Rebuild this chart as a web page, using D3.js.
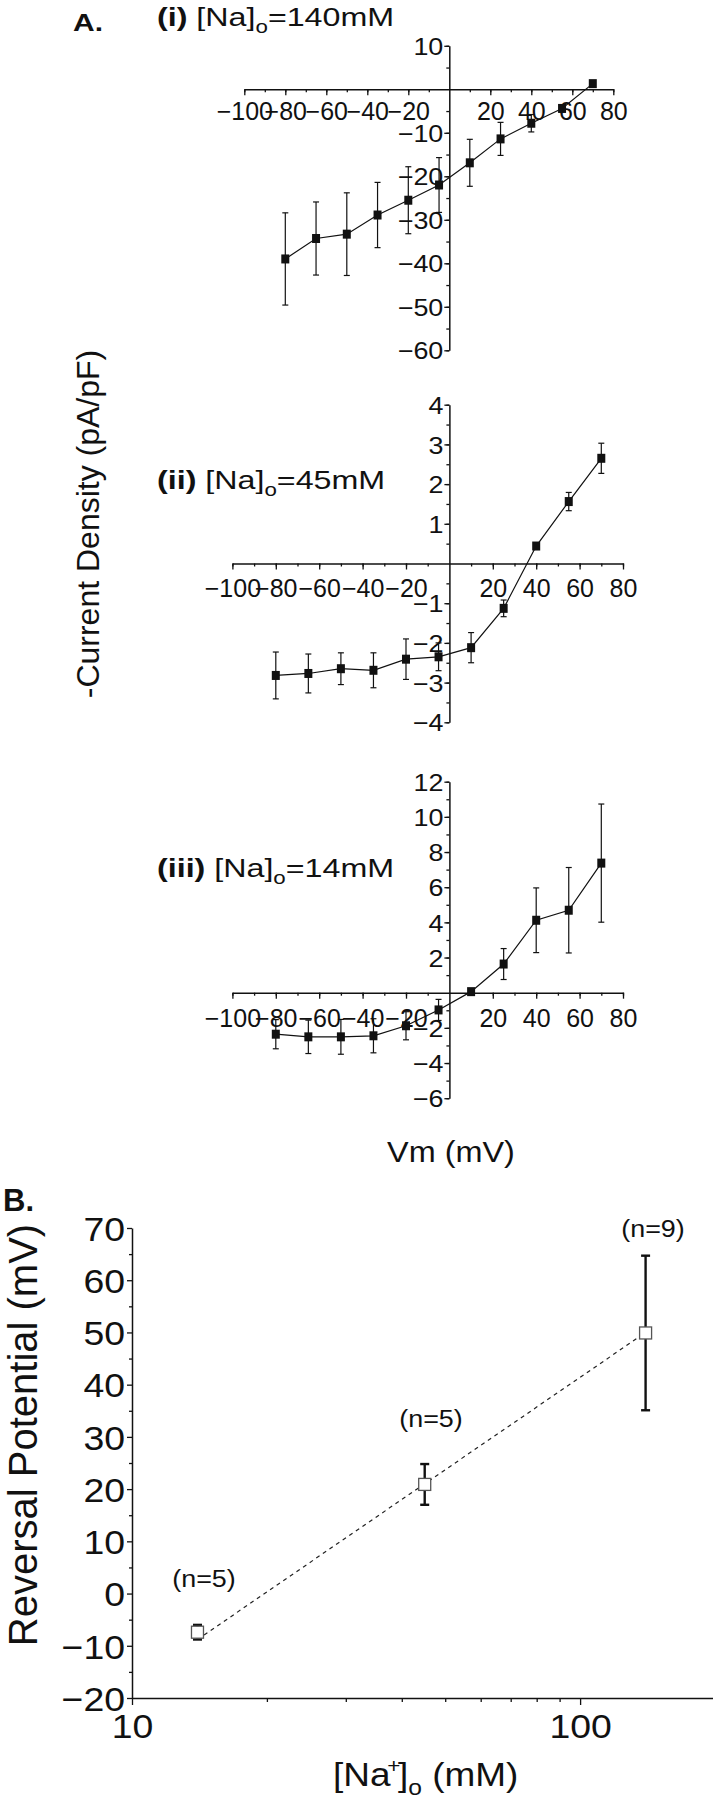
<!DOCTYPE html>
<html><head><meta charset="utf-8">
<script src="https://cdn.jsdelivr.net/npm/d3@7/dist/d3.min.js"></script>
<style>
body{margin:0;background:#fff}
svg{display:block}
text{font-family:"Liberation Sans",Arial,Helvetica,sans-serif;fill:#111}
</style></head>
<body>
<svg id="chart" width="713" height="1800"></svg>
<script>
// ---------- data ----------
const voltages = [-80, -65, -50, -35, -20, -5, 10, 25, 40, 55, 70];
const current140 = [-39.0, -34.3, -33.3, -28.9, -25.5, -22.0, -16.9, -11.4, -7.8, -4.4, 1.3];
const err140     = [10.6, 8.4, 9.5, 7.5, 7.7, 6.3, 5.4, 3.8, 2.0, 0.8, 0.6];
const current45  = [-2.82, -2.77, -2.65, -2.69, -2.41, -2.35, -2.12, -1.13, 0.44, 1.56, 2.65];
const err45      = [0.59, 0.49, 0.40, 0.44, 0.51, 0.35, 0.38, 0.21, 0.07, 0.23, 0.38];
const current14  = [-2.36, -2.51, -2.51, -2.45, -1.88, -0.98, 0.06, 1.63, 4.12, 4.69, 7.37];
const err14      = [0.83, 0.95, 0.99, 0.97, 0.80, 0.60, 0.10, 0.88, 1.84, 2.43, 3.36];

const vmTicks = [-100, -80, -60, -40, -20, 20, 40, 60, 80];
const vmMinorTicks = [-100, -90, -80, -70, -60, -50, -40, -30, -20, -10, 10, 20, 30, 40, 50, 60, 70, 80];
const yTicks140 = [10, -10, -20, -30, -40, -50, -60];
const yMinor140 = [10, 5, -5, -10, -15, -20, -25, -30, -35, -40, -45, -50, -55, -60];
const yTicks45 = [4, 3, 2, 1, -1, -2, -3, -4];
const yMinor45 = [4, 3.5, 3, 2.5, 2, 1.5, 1, 0.5, -0.5, -1, -1.5, -2, -2.5, -3, -3.5, -4];
const yTicks14 = [12, 10, 8, 6, 4, 2, -2, -4, -6];
const yMinor14 = [12, 11, 10, 9, 8, 7, 6, 5, 4, 3, 2, 1, -1, -2, -3, -4, -5, -6];

const naConc   = [14, 45, 140];
const revPot   = [-7.4, 20.9, 49.9];
const revErr   = [1.4, 3.9, 14.8];
const nLabels  = ["(n=5)", "(n=5)", "(n=9)"];
const fitConc  = [14, 140];
const fitPot   = [-8.8, 50];
const bYTicks  = [70, 60, 50, 40, 30, 20, 10, 0, -10, -20];
const bYMinor  = [65, 55, 45, 35, 25, 15, 5, -5, -15];
const bXTicks  = [10, 100];
const bXMinor  = [20, 30, 40, 50, 60, 70, 80, 90, 200];

// ---------- drawing ----------
const svg = d3.select("#chart");
const KX = 1.0;  // horizontal stretch of x tick labels
const KY = 1.12; // horizontal stretch of y tick labels

function styleAxis(g){
  g.selectAll("path.domain").attr("stroke","#111").attr("stroke-width",1.5);
  g.selectAll(".tick line").attr("stroke","#111").attr("stroke-width",1.3);
}

function ivPanel(cfg){
  const x = d3.scaleLinear().domain([-100, 80]).range(cfg.xr);
  const y = d3.scaleLinear().domain(cfg.yd).range(cfg.yr);
  const g = svg.append("g");

  const gxm = g.append("g").attr("transform",`translate(0,${y(0)})`)
    .call(d3.axisBottom(x).tickValues(vmMinorTicks).tickSize(3).tickSizeOuter(0).tickFormat(""));
  gxm.select("path.domain").remove();
  const gx = g.append("g").attr("transform",`translate(0,${y(0)})`)
    .call(d3.axisBottom(x).tickValues(vmTicks).tickSize(6).tickSizeOuter(0).tickFormat(d3.format("d")));
  gx.selectAll(".tick text").attr("y", cfg.xLabOff).attr("dy", 0)
    .attr("font-size", 25).attr("transform", `scale(${KX},1)`);
  styleAxis(gxm); styleAxis(gx);

  const gym = g.append("g").attr("transform",`translate(${x(0)},0)`)
    .call(d3.axisLeft(y).tickValues(cfg.yMinor).tickSize(3).tickSizeOuter(0).tickFormat(""));
  gym.select("path.domain").remove();
  const gy = g.append("g").attr("transform",`translate(${x(0)},0)`)
    .call(d3.axisLeft(y).tickValues(cfg.yTicks).tickSize(5).tickSizeOuter(0).tickFormat(d3.format("d")));
  gy.selectAll(".tick text").attr("x", -6 / KY).attr("dy", "0.36em")
    .attr("font-size", 24).attr("transform", `scale(${KY},1)`);
  styleAxis(gym); styleAxis(gy);
  g.selectAll(".tick text").attr("fill","#111").attr("font-family",'"Liberation Sans",Arial,sans-serif');

  const pts = voltages.map((v,i)=>({v, c: cfg.vals[i], e: cfg.errs[i]}));
  const eb = g.append("g").attr("stroke","#111").attr("stroke-width",1.2);
  pts.forEach(p=>{
    const cx = x(p.v);
    eb.append("line").attr("x1",cx).attr("x2",cx).attr("y1",y(p.c+p.e)).attr("y2",y(p.c-p.e));
    eb.append("line").attr("x1",cx-3).attr("x2",cx+3).attr("y1",y(p.c+p.e)).attr("y2",y(p.c+p.e));
    eb.append("line").attr("x1",cx-3).attr("x2",cx+3).attr("y1",y(p.c-p.e)).attr("y2",y(p.c-p.e));
  });
  g.append("path").datum(pts)
    .attr("d", d3.line().x(p=>x(p.v)).y(p=>y(p.c)))
    .attr("fill","none").attr("stroke","#111").attr("stroke-width",1.2);
  g.selectAll("rect.pt").data(pts).join("rect").attr("class","pt")
    .attr("x", p=>x(p.v)-4).attr("y", p=>y(p.c)-4.5)
    .attr("width",8).attr("height",9).attr("fill","#111");

  const t = svg.append("text").attr("transform",`translate(157,${cfg.titleY}) scale(1.24,1)`)
    .attr("font-size", 26);
  t.append("tspan").attr("font-weight","bold").text(cfg.roman);
  t.append("tspan").text(" [Na]");
  t.append("tspan").attr("font-size",18).attr("dy",7).text("o");
  t.append("tspan").attr("dy",-7).text("=" + cfg.conc + "mM");
}

ivPanel({xr:[244.3, 613.3], yd:[-60,10], yr:[350.3, 45.8], yTicks:yTicks140, yMinor:yMinor140,
  vals:current140, errs:err140, roman:"(i)", conc:140, titleY:26, xLabOff:31});
ivPanel({xr:[232.4, 623.0], yd:[-4,4], yr:[722.3, 404.7], yTicks:yTicks45, yMinor:yMinor45,
  vals:current45, errs:err45, roman:"(ii)", conc:45, titleY:489, xLabOff:33});
ivPanel({xr:[232.4, 623.0], yd:[-6,12], yr:[1098.2, 781.7], yTicks:yTicks14, yMinor:yMinor14,
  vals:current14, errs:err14, roman:"(iii)", conc:14, titleY:877, xLabOff:34});

svg.append("text").attr("transform",`translate(73,31) scale(1.25,1)`)
  .attr("font-size",24).attr("font-weight","bold").text("A.");
svg.append("text").attr("transform","translate(99,524) rotate(-90)")
  .attr("text-anchor","middle").attr("font-size",32).text("-Current Density (pA/pF)");
svg.append("text").attr("transform",`translate(451,1162) scale(1.08,1)`)
  .attr("text-anchor","middle").attr("font-size",30).text("Vm (mV)");

// ---------- panel B ----------
const bx = d3.scaleLog().domain([10, 200]).range([132, 715]);
const by = d3.scaleLinear().domain([-20, 70]).range([1698, 1228]);
const gb = svg.append("g");

const gbxm = gb.append("g").attr("transform",`translate(0,${by(-20)})`)
  .call(d3.axisBottom(bx).tickValues(bXMinor).tickSize(4).tickSizeOuter(0).tickFormat(""));
gbxm.select("path.domain").remove();
const gbx = gb.append("g").attr("transform",`translate(0,${by(-20)})`)
  .call(d3.axisBottom(bx).tickValues(bXTicks).tickSize(7).tickSizeOuter(0).tickFormat(d3.format("d")));
gbx.selectAll(".tick text").attr("y", 40).attr("dy", 0).attr("font-size", 34)
  .attr("transform", `scale(1.1,1)`);
styleAxis(gbxm); styleAxis(gbx);

const gbym = gb.append("g").attr("transform",`translate(${bx(10)},0)`)
  .call(d3.axisLeft(by).tickValues(bYMinor).tickSize(3).tickSizeOuter(0).tickFormat(""));
gbym.select("path.domain").remove();
const gby = gb.append("g").attr("transform",`translate(${bx(10)},0)`)
  .call(d3.axisLeft(by).tickValues(bYTicks).tickSize(5).tickSizeOuter(0).tickFormat(d3.format("d")));
gby.selectAll(".tick text").attr("x", -7/1.1).attr("dy","0.36em").attr("font-size",34)
  .attr("transform", `scale(1.1,1)`);
styleAxis(gbym); styleAxis(gby);
gb.selectAll(".tick text").attr("fill","#111").attr("font-family",'"Liberation Sans",Arial,sans-serif');

gb.append("path").datum(fitConc.map((c,i)=>[c, fitPot[i]]))
  .attr("d", d3.line().x(d=>bx(d[0])).y(d=>by(d[1])))
  .attr("fill","none").attr("stroke","#222").attr("stroke-width",1.2).attr("stroke-dasharray","4,4");

const bpts = naConc.map((c,i)=>({c, v: revPot[i], e: revErr[i], n: nLabels[i]}));
const beb = gb.append("g").attr("stroke","#111").attr("stroke-width",2.4);
bpts.forEach(p=>{
  const cx = bx(p.c);
  beb.append("line").attr("x1",cx).attr("x2",cx).attr("y1",by(p.v+p.e)).attr("y2",by(p.v-p.e));
  beb.append("line").attr("x1",cx-4.5).attr("x2",cx+4.5).attr("y1",by(p.v+p.e)).attr("y2",by(p.v+p.e));
  beb.append("line").attr("x1",cx-4.5).attr("x2",cx+4.5).attr("y1",by(p.v-p.e)).attr("y2",by(p.v-p.e));
});
gb.selectAll("rect.bp").data(bpts).join("rect").attr("class","bp")
  .attr("x", p=>bx(p.c)-6).attr("y", p=>by(p.v)-6).attr("width",12).attr("height",12)
  .attr("fill","#fff").attr("stroke","#555").attr("stroke-width",1.3);

const nPos = [[204, 1587], [431, 1427], [653, 1237]];
bpts.forEach((p,i)=>{
  svg.append("text").attr("transform",`translate(${nPos[i][0]},${nPos[i][1]}) scale(1.12,1)`)
    .attr("text-anchor","middle").attr("font-size",24).text(p.n);
});

svg.append("text").attr("transform","translate(3,1211)").attr("font-size",31)
  .attr("font-weight","bold").text("B.");
svg.append("text").attr("transform","translate(37,1435) rotate(-90)")
  .attr("text-anchor","middle").attr("font-size",40).text("Reversal Potential (mV)");
const bt = svg.append("text").attr("transform","translate(333,1786) scale(1.12,1)").attr("font-size",33);
bt.append("tspan").text("[Na");
bt.append("tspan").attr("font-size",20).attr("dy",-13).attr("dx",-3).text("+");
bt.append("tspan").attr("dy",13).attr("dx",-2).text("]");
bt.append("tspan").attr("font-size",22).attr("dy",9).text("o");
bt.append("tspan").attr("dy",-9).text(" (mM)");
</script>
</body></html>
